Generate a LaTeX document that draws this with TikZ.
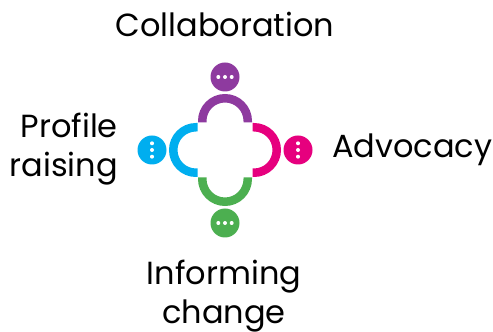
\documentclass[tikz,border=0pt]{standalone}
\usepackage{fontspec}
\setmainfont{Poppins}
\usetikzlibrary{positioning,calc}
\definecolor{tmPurple}{HTML}{8E3A9F}
\definecolor{tmPink}{HTML}{E6007E}
\definecolor{tmCyan}{HTML}{00AEEF}
\definecolor{tmGreen}{HTML}{4CAF50}
\tikzset{
  head/.style={circle, fill=#1, minimum size=29pt, inner sep=0pt},
  body/.style={line width=8.5pt, draw=#1},
  dot/.style={circle, fill=white, minimum size=4pt, inner sep=0pt},
  lbl/.style={font=\fontsize{32}{39}\selectfont, inner sep=0pt}
}

\begin{document}
\begin{tikzpicture}[x=1pt, y=1pt]
  \useasboundingbox (0,0) rectangle (493,332);
  \coordinate (hub) at (225,182);

  % heads round the table
  \node[head=tmPurple] (collab) at ($(hub)+(0,73)$) {};
  \node[head=tmPink]   (advoc)  at ($(hub)+(73,0)$) {};
  \node[head=tmGreen]  (inform) at ($(hub)+(0,-73)$) {};
  \node[head=tmCyan]   (profil) at ($(hub)+(-73,0)$) {};

  % shoulders: half rings facing outwards
  \foreach \ang/\col in {90/tmPurple, 0/tmPink, 270/tmGreen, 180/tmCyan}{
    \draw[body=\col] ($(hub)+(\ang:29)+(\ang-90:22.75)+(\ang+180:1.5)$)
      -- ++(\ang:1.5) arc[start angle=\ang-90, delta angle=180, radius=22.75]
      -- ++(\ang+180:1.5);
  }

  % speech dots
  \foreach \n in {collab, inform}{
    \foreach \dx in {-6.7, 0, 6.7}
      \node[dot] at ($(\n)+(\dx,0)$) {};
  }
  \foreach \n in {advoc, profil}{
    \foreach \dy in {-6.7, 0, 6.7}
      \node[dot] at ($(\n)+(0,\dy)$) {};
  }

  \node[lbl, anchor=base] (tcollab) at (225,295.3) {Collaboration};
  \node[lbl, anchor=base west] (tadvoc) at (332,174.7) {Advocacy};
  \node[lbl, anchor=base east, align=right] (tprofil) at (118,155.3) {Profile\\raising};
  \node[lbl, anchor=base, align=center] (tinform) at (224,8) {Informing\\change};
\end{tikzpicture}
\end{document}
